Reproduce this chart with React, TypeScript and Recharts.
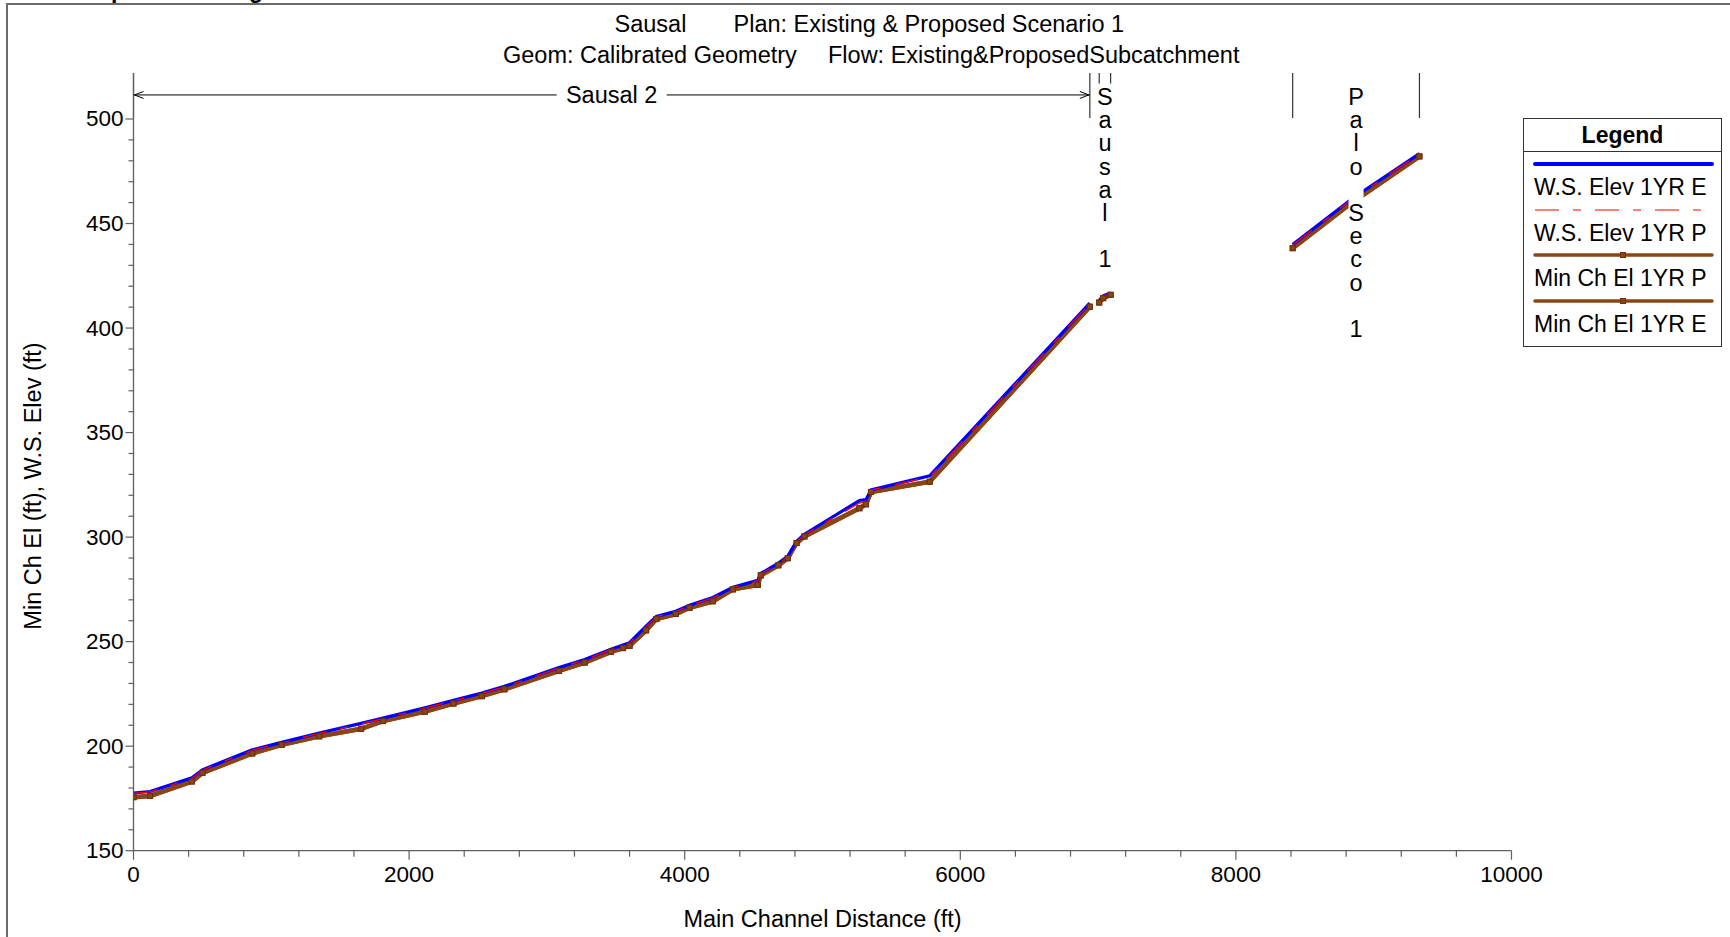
import React from "react";
import {
  Legend,
  Line,
  LineChart,
  ReferenceDot,
  ReferenceLine,
  XAxis,
  YAxis,
} from "recharts";

const FONT = '"Liberation Sans", Arial, sans-serif';
const BROWN = "#8b4513";
const BROWN_EDGE = "#6b300c";
const AXIS = "#5f5f5f";

// stations (ft) and elevations (ft), one set per reach
const sausal2Station = [
  0, 120, 424, 500, 862, 1075, 1348, 1652, 1810, 2115, 2322, 2528, 2692, 3088,
  3274, 3465, 3552, 3600, 3720, 3794, 3935, 4035, 4204, 4350, 4530, 4552, 4680,
  4748, 4812, 4869, 5268, 5316, 5352, 5778, 6940,
];
const sausal2MinCh = [
  175.6, 176.2, 183.1, 187.2, 196.5, 200.6, 204.7, 208.3, 212.0, 216.5, 220.4,
  223.9, 227.2, 236.0, 240.0, 245.1, 246.9, 248.0, 255.4, 260.8, 263.2, 266.2,
  269.3, 275.0, 277.1, 281.7, 286.5, 289.9, 297.2, 300.3, 313.8, 315.7, 321.6,
  326.5, 410.2,
];
const sausal2WsE = [
  177.6, 178.3, 184.9, 188.7, 198.3, 201.8, 206.3, 210.9, 213.4, 218.4, 221.9,
  225.4, 228.6, 237.6, 241.5, 246.4, 248.4, 249.5, 257.4, 262.1, 264.5, 267.4,
  271.1, 276.0, 279.3, 282.6, 287.6, 290.8, 298.0, 301.4, 317.5, 318.0, 322.6,
  329.3, 411.9,
];
const sausal2WsP = [
  177.4, 178.1, 184.7, 188.5, 198.1, 201.6, 206.1, 210.6, 213.2, 218.2, 221.7,
  225.2, 228.4, 237.4, 241.3, 246.2, 248.2, 249.3, 257.2, 261.9, 264.3, 267.2,
  270.9, 275.8, 279.1, 282.4, 287.4, 290.6, 297.8, 301.2, 316.3, 317.2, 322.4,
  328.9, 411.7,
];

const sausal1Station = [7008, 7037, 7091];
const sausal1MinCh = [412.2, 414.3, 415.9];
const sausal1WsE = [413.3, 415.4, 416.8];
const sausal1WsP = [413.1, 415.2, 416.6];

const paloSecoStation = [8412, 8850, 9332];
const paloSecoMinCh = [438.2, 460.4, 482.1];
const paloSecoWsE = [439.9, 462.2, 483.4];
const paloSecoWsP = [439.7, 462.0, 483.2];

const xTicks = [
  0, 400, 800, 1200, 1600, 2000, 2400, 2800, 3200, 3600, 4000, 4400, 4800, 5200,
  5600, 6000, 6400, 6800, 7200, 7600, 8000, 8400, 8800, 9200, 9600, 10000,
];
const yTicks = [
  150, 160, 170, 180, 190, 200, 210, 220, 230, 240, 250, 260, 270, 280, 290, 300,
  310, 320, 330, 340, 350, 360, 370, 380, 390, 400, 410, 420, 430, 440, 450, 460,
  470, 480, 490, 500,
];

// the min channel for the proposed plan sits exactly on the existing one
const reaches = [
  { name: "Sausal 2", station: sausal2Station, minChE: sausal2MinCh, minChP: sausal2MinCh, wsE: sausal2WsE, wsP: sausal2WsP, mark: 500.5, stacked: false },
  { name: "Sausal 1", station: sausal1Station, minChE: sausal1MinCh, minChP: sausal1MinCh, wsE: sausal1WsE, wsP: sausal1WsP, mark: 517, stacked: true },
  { name: "Palo Seco 1", station: paloSecoStation, minChE: paloSecoMinCh, minChP: paloSecoMinCh, wsE: paloSecoWsE, wsP: paloSecoWsP, mark: 500.5, stacked: true },
];

type Key = "minChE" | "minChP" | "wsE" | "wsP";
type Row = { x: number; y: number | null };

function series(key: Key): Row[] {
  const rows: Row[] = [];
  reaches.forEach((r, i) => {
    if (i > 0) rows.push({ x: r.station[0], y: null });
    r.station.forEach((x, j) => rows.push({ x, y: r[key][j] }));
  });
  return rows;
}

const Y_TOP = 522;
const ARROW_Y = 511.5;

const legendItems = [
  { name: "W.S. Elev 1YR E", color: "#0000ff", width: 4, dash: undefined, marker: false },
  { name: "W.S. Elev 1YR P", color: "#ff0000", width: 1.2, dash: "24 14 8 14", marker: false },
  { name: "Min Ch El 1YR P", color: BROWN, width: 3.5, dash: undefined, marker: true },
  { name: "Min Ch El 1YR E", color: BROWN, width: 3.5, dash: undefined, marker: true },
];

const SquareDot = (p: any) => {
  if (p.cy == null || p.value == null || Number.isNaN(p.cy))
    return <g key={`d-${p.index}`} />;
  return (
    <rect
      key={`d-${p.index}`}
      x={p.cx - 2.5}
      y={p.cy - 2.5}
      width={5}
      height={5}
      fill={BROWN}
      stroke={BROWN_EDGE}
      strokeWidth={1}
    />
  );
};

const XTick = ({ x, y, payload }: any) => {
  const major = payload.value % 2000 === 0;
  return (
    <g>
      <line x1={x} x2={x} y1={y} y2={y + (major ? 9 : 6)} stroke={AXIS} strokeWidth={1.2} />
      {major && (
        <text x={x} y={y + 24} textAnchor="middle" dominantBaseline="central" fontSize={22.5} fontFamily={FONT} fill="#000">
          {payload.value}
        </text>
      )}
    </g>
  );
};

const YTick = ({ x, y, payload }: any) => {
  const major = payload.value % 50 === 0;
  return (
    <g>
      <line x1={x - (major ? 8 : 5)} x2={x} y1={y} y2={y} stroke={AXIS} strokeWidth={1.2} />
      {major && (
        <text x={x - 10} y={y} textAnchor="end" dominantBaseline="central" fontSize={22.5} fontFamily={FONT} fill="#000">
          {payload.value}
        </text>
      )}
    </g>
  );
};

const ReachArrow = ({ x1, y1, x2, label }: any) => {
  const mid = (x1 + x2) / 2;
  return (
    <g>
      <line x1={x1} y1={y1} x2={x2} y2={y1} stroke="#000" strokeWidth={1} />
      <polyline points={`${x1 + 10},${y1 - 3.5} ${x1 + 1},${y1} ${x1 + 10},${y1 + 3.5}`} fill="none" stroke="#000" strokeWidth={1} />
      <polyline points={`${x2 - 10},${y1 - 3.5} ${x2 - 1},${y1} ${x2 - 10},${y1 + 3.5}`} fill="none" stroke="#000" strokeWidth={1} />
      <rect x={mid - 55} y={y1 - 12} width={110} height={24} fill="#fff" />
      <text x={mid} y={y1} textAnchor="middle" dominantBaseline="central" fontSize={23.5} fontFamily={FONT} fill="#000">
        {label}
      </text>
    </g>
  );
};

const StackLabel = ({ cx, cy, text }: any) => {
  const chars = text.split("");
  const step = 23.2;
  return (
    <g>
      <rect x={cx - 7.5} y={cy - 10} width={15} height={(chars.length - 1) * step + 22} fill="#fff" />
      {chars.map((c: string, i: number) => (
        <text key={i} x={cx} y={cy + 2 + i * step} textAnchor="middle" dominantBaseline="central" fontSize={23.5} fontFamily={FONT} fill="#000">
          {c}
        </text>
      ))}
    </g>
  );
};

const LegendBox = () => (
  <div
    style={{
      position: "relative",
      width: 199,
      height: 229,
      boxSizing: "border-box",
      border: "1px solid #333",
      background: "#fff",
      fontFamily: FONT,
      fontSize: 23,
      color: "#000",
    }}
  >
    <div style={{ height: 32, lineHeight: "32px", borderBottom: "1px solid #333", textAlign: "center", fontWeight: "bold" }}>
      Legend
    </div>
    {legendItems.map((it, i) => (
      <div key={it.name}>
        <svg style={{ position: "absolute", left: 0, top: 38 + i * 45.6 }} width={197} height={14}>
          <line x1={11} x2={188} y1={7} y2={7} stroke={it.color} strokeWidth={it.width} strokeDasharray={it.dash} strokeLinecap={it.dash ? "butt" : "round"} />
          {it.marker && <rect x={96.5} y={4.5} width={5} height={5} fill={BROWN} stroke={BROWN_EDGE} />}
        </svg>
        <div style={{ position: "absolute", left: 10, top: 54 + i * 45.6, height: 28, lineHeight: "28px", whiteSpace: "nowrap" }}>
          {it.name}
        </div>
      </div>
    ))}
  </div>
);

export default function App() {
  const minChE = series("minChE");
  const minChP = series("minChP");
  const wsE = series("wsE");
  const wsP = series("wsP");

  return (
    <div style={{ position: "absolute", left: 0, top: 0, width: 1730, height: 937, overflow: "hidden", background: "#fff" }}>
      <div style={{ position: "absolute", left: 6, top: 3, width: 1800, height: 1000, borderLeft: "2px solid #6b6b6b", borderTop: "2px solid #6b6b6b" }} />
      <div style={{ position: "absolute", left: 0, top: 0 }}>
        <LineChart width={1730} height={937} margin={{ top: 73, right: 218.5, bottom: 46.3, left: 13.5 }}>
          <XAxis
            type="number"
            dataKey="x"
            domain={[0, 10000]}
            ticks={xTicks}
            interval={0}
            allowDataOverflow
            height={40}
            tickSize={0}
            tickMargin={0}
            tickLine={false}
            axisLine={{ stroke: AXIS, strokeWidth: 1.3 }}
            tick={<XTick />}
          />
          <YAxis
            type="number"
            domain={[150, Y_TOP]}
            ticks={yTicks}
            interval={0}
            allowDataOverflow
            width={120}
            tickSize={0}
            tickMargin={0}
            tickLine={false}
            axisLine={{ stroke: AXIS, strokeWidth: 1.3 }}
            tick={<YTick />}
          />
          <Line name="Min Ch El 1YR E" data={minChE} dataKey="y" type="linear" stroke={BROWN} strokeWidth={4.5} dot={SquareDot} activeDot={false} connectNulls={false} isAnimationActive={false} />
          <Line name="Min Ch El 1YR P" data={minChP} dataKey="y" type="linear" stroke={BROWN} strokeWidth={4.5} dot={SquareDot} activeDot={false} connectNulls={false} isAnimationActive={false} />
          <Line name="W.S. Elev 1YR E" data={wsE} dataKey="y" type="linear" stroke="#0000ff" strokeWidth={3.2} dot={false} activeDot={false} connectNulls={false} isAnimationActive={false} />
          <Line name="W.S. Elev 1YR P" data={wsP} dataKey="y" type="linear" stroke="#ff0000" strokeWidth={1.3} strokeDasharray="24 14 8 14" dot={false} activeDot={false} connectNulls={false} isAnimationActive={false} />

          {reaches.map((r) => {
            const start = r.station[0];
            const end = r.station[r.station.length - 1];
            return [
              <ReferenceLine key={`${r.name}-a`} segment={[{ x: start, y: r.mark }, { x: start, y: Y_TOP }]} stroke="#333" strokeWidth={1.2} ifOverflow="visible" />,
              <ReferenceLine key={`${r.name}-b`} segment={[{ x: end, y: r.mark }, { x: end, y: Y_TOP }]} stroke="#333" strokeWidth={1.2} ifOverflow="visible" />,
            ];
          })}
          <ReferenceLine
            segment={[{ x: sausal2Station[0], y: ARROW_Y }, { x: sausal2Station[sausal2Station.length - 1], y: ARROW_Y }]}
            ifOverflow="visible"
            zIndex={2500}
            shape={(p: any) => <ReachArrow {...p} label="Sausal 2" />}
          />
          {reaches
            .filter((r) => r.stacked)
            .map((r) => (
              <ReferenceDot
                key={`${r.name}-lbl`}
                x={(r.station[0] + r.station[r.station.length - 1]) / 2}
                y={ARROW_Y}
                r={0}
                ifOverflow="visible"
                zIndex={2500}
                shape={(p: any) => <StackLabel cx={p.cx} cy={p.cy} text={r.name} />}
              />
            ))}
          <Legend
            layout="horizontal"
            verticalAlign="middle"
            align="center"
            wrapperStyle={{ left: 1523, top: 118, width: 199, height: 229 }}
            content={() => <LegendBox />}
          />
        </LineChart>
      </div>
      <svg style={{ position: "absolute", left: 0, top: 0, pointerEvents: "none" }} width={1730} height={937}>
        <text x={4} y={-2.5} fontSize={23} fontWeight="bold" fontFamily={FONT} fill="#000">
          Sausal Top Reach Long Profile
        </text>
        <g fontSize={23.5} fontFamily={FONT} fill="#000" dominantBaseline="central">
          <text x={614.5} y={24}>Sausal</text>
          <text x={733.5} y={24}>Plan: Existing &amp; Proposed Scenario 1</text>
          <text x={503} y={55}>Geom: Calibrated Geometry</text>
          <text x={828} y={55}>Flow: Existing&amp;ProposedSubcatchment</text>
          <text x={822.5} y={919} textAnchor="middle">Main Channel Distance (ft)</text>
          <text x={33} y={486} textAnchor="middle" transform="rotate(-90 33 486)">
            Min Ch El (ft), W.S. Elev (ft)
          </text>
        </g>
      </svg>
    </div>
  );
}
